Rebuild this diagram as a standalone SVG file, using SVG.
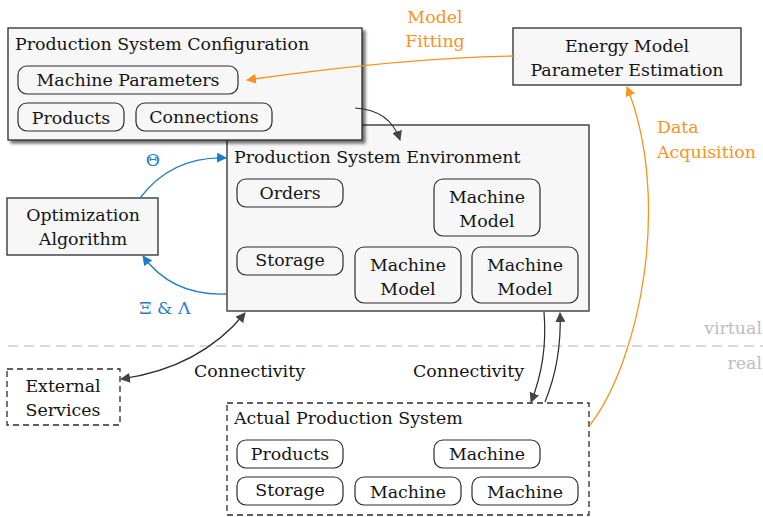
<svg xmlns="http://www.w3.org/2000/svg" width="763" height="517" viewBox="0 0 763 517">
  <style>
    text { font-family: "DejaVu Serif", "Liberation Serif", serif; font-size: 17.4px; fill: #141414; }
    .c { text-anchor: middle; }
    .box { fill: #f7f7f7; stroke: #2b2b2b; stroke-width: 1.3; }
    .dash { fill: #ffffff; stroke: #2b2b2b; stroke-width: 1.3; stroke-dasharray: 6 4; }
    .pill { fill: #f7f7f7; stroke: #2b2b2b; stroke-width: 1.2; }
    .pillw { fill: #ffffff; stroke: #2b2b2b; stroke-width: 1.2; }
    .blk { fill: none; stroke: #2b2b2b; stroke-width: 1.2; }
    .blue { fill: none; stroke: #1f7dc6; stroke-width: 1.3; }
    .orng { fill: none; stroke: #f7931e; stroke-width: 1.3; }
    .lb { fill: #1f7dc6; }
    .lo { fill: #f7931e; }
    .lg { fill: #bdbdbd; }
  </style>
  <defs>
    <marker id="ah" viewBox="0 0 10 10" refX="9" refY="5" markerWidth="10" markerHeight="10" markerUnits="userSpaceOnUse" orient="auto-start-reverse">
      <path d="M0,0 L10,5 L0,10 z" fill="#444"/>
    </marker>
    <marker id="ahb" viewBox="0 0 10 10" refX="9" refY="5" markerWidth="10" markerHeight="10" markerUnits="userSpaceOnUse" orient="auto">
      <path d="M0,0 L10,5 L0,10 z" fill="#1f7dc6"/>
    </marker>
    <marker id="aho" viewBox="0 0 10 10" refX="9" refY="5" markerWidth="10" markerHeight="10" markerUnits="userSpaceOnUse" orient="auto">
      <path d="M0,0 L10,5 L0,10 z" fill="#f7931e"/>
    </marker>
    <filter id="shadow" x="-5%" y="-5%" width="115%" height="125%">
      <feGaussianBlur in="SourceAlpha" stdDeviation="1.5"/>
      <feOffset dx="3" dy="3"/>
      <feComponentTransfer><feFuncA type="linear" slope="0.55"/></feComponentTransfer>
      <feMerge><feMergeNode/><feMergeNode in="SourceGraphic"/></feMerge>
    </filter>
  </defs>

  <!-- virtual / real divider -->
  <g id="divider">
    <line x1="8" y1="346" x2="763" y2="346" stroke="#cccccc" stroke-width="1.3" stroke-dasharray="10 6"/>
    <text x="762" y="334" class="lg" text-anchor="end">virtual</text>
    <text x="762" y="369" class="lg" text-anchor="end">real</text>
  </g>

  <!-- simulated environment -->
  <g id="environment">
    <rect class="box" x="227" y="125" width="362" height="186"/>
    <text x="234" y="163">Production System Environment</text>
    <rect class="pill" x="237" y="179" width="106" height="28" rx="9"/>
    <text class="c" x="290" y="199">Orders</text>
    <rect class="pill" x="237" y="247" width="106" height="28" rx="9"/>
    <text class="c" x="290" y="266">Storage</text>
    <rect class="pill" x="434" y="179" width="106" height="57" rx="9"/>
    <text class="c" x="487" y="203">Machine</text>
    <text class="c" x="487" y="227">Model</text>
    <rect class="pill" x="355" y="247" width="106" height="56" rx="9"/>
    <text class="c" x="408" y="271">Machine</text>
    <text class="c" x="408" y="295">Model</text>
    <rect class="pill" x="472" y="247" width="106" height="56" rx="9"/>
    <text class="c" x="525" y="271">Machine</text>
    <text class="c" x="525" y="295">Model</text>
  </g>

  <!-- configuration, drawn above the environment -->
  <g id="configuration">
    <rect class="box" x="8" y="28" width="354" height="112" filter="url(#shadow)"/>
    <text x="15" y="50">Production System Configuration</text>
    <rect class="pill" x="18" y="66" width="220" height="28" rx="9"/>
    <text class="c" x="128" y="86">Machine Parameters</text>
    <rect class="pill" x="18" y="103" width="106" height="28" rx="9"/>
    <text class="c" x="71" y="124">Products</text>
    <rect class="pill" x="136" y="103" width="136" height="28" rx="9"/>
    <text class="c" x="204" y="123">Connections</text>
  </g>

  <g id="energy-model">
    <rect class="box" x="513" y="28" width="228" height="57"/>
    <text class="c" x="627" y="52">Energy Model</text>
    <text class="c" x="627" y="76">Parameter Estimation</text>
  </g>

  <g id="optimizer">
    <rect class="box" x="7" y="198" width="151" height="57"/>
    <text class="c" x="83" y="221">Optimization</text>
    <text class="c" x="83" y="245">Algorithm</text>
  </g>

  <g id="external">
    <rect class="dash" x="7" y="369" width="113" height="56"/>
    <text class="c" x="63" y="392">External</text>
    <text class="c" x="63" y="416">Services</text>
  </g>

  <g id="actual-system">
    <rect class="dash" x="227" y="403" width="362" height="112"/>
    <text x="234" y="424">Actual Production System</text>
    <rect class="pillw" x="237" y="440" width="106" height="28" rx="9"/>
    <text class="c" x="290" y="460">Products</text>
    <rect class="pillw" x="434" y="440" width="106" height="28" rx="9"/>
    <text class="c" x="487" y="460">Machine</text>
    <rect class="pillw" x="237" y="477" width="106" height="28" rx="9"/>
    <text class="c" x="290" y="496">Storage</text>
    <rect class="pillw" x="355" y="477" width="106" height="28" rx="9"/>
    <text class="c" x="408" y="498">Machine</text>
    <rect class="pillw" x="472" y="477" width="106" height="28" rx="9"/>
    <text class="c" x="525" y="498">Machine</text>
  </g>

  <g id="connectors">
    <path class="blk" d="M355,108 Q390,110 400,140" marker-end="url(#ah)"/>
    <path class="blue" d="M140,198 Q172,156 226,158" marker-end="url(#ahb)"/>
    <path class="blue" d="M226,294 Q172,296 143,256" marker-end="url(#ahb)"/>
    <path class="orng" d="M513,56 Q400,58 247,80" marker-end="url(#aho)"/>
    <path class="orng" d="M590,425 C640,360 672,200 627,87" marker-end="url(#aho)"/>
    <path class="blk" d="M121,379 Q200,368 245,313" marker-start="url(#ah)" marker-end="url(#ah)"/>
    <path class="blk" d="M544,312 Q548,360 531,402" marker-end="url(#ah)"/>
    <path class="blk" d="M545,402 Q562,360 560,313" marker-end="url(#ah)"/>
    <text class="c lb" x="153" y="166">Θ</text>
    <text class="c lb" x="165" y="314">Ξ &amp; Λ</text>
    <text class="c lo" x="435" y="23">Model</text>
    <text class="c lo" x="435" y="47">Fitting</text>
    <text x="657" y="133" class="lo">Data</text>
    <text x="657" y="158" class="lo">Acquisition</text>
    <text x="194" y="377">Connectivity</text>
    <text x="413" y="377">Connectivity</text>
  </g>
</svg>
